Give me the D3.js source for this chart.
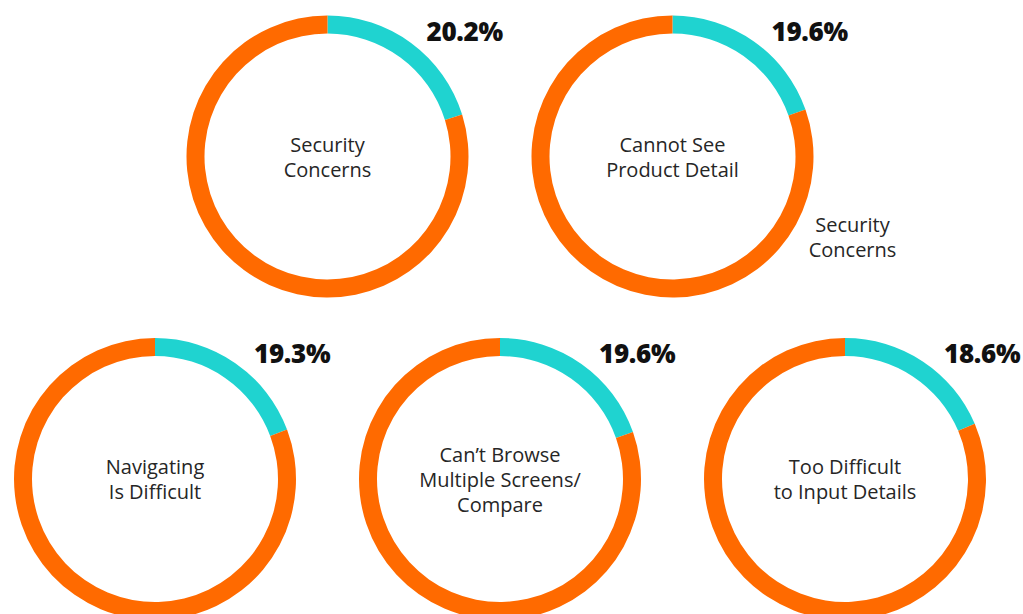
<html>
<body style="margin:0;background:#fff">
<svg class="chart"></svg>
</body>
<style>
  .center-label { font-family: "Open Sans", sans-serif; font-size: 20px; fill: #262626; }
  .pct-label { font-family: "Open Sans", sans-serif; font-weight: 800; font-size: 26px; fill: #111; letter-spacing: -0.3px; }
</style>
<script src="https://d3js.org/d3.v7.min.js"></script>
<script>
  // reasons, share of respondents (%)
  var categories = [
    ["Security", "Concerns"],
    ["Cannot See", "Product Detail"],
    ["Navigating", "Is Difficult"],
    ["Can\u2019t Browse", "Multiple Screens/", "Compare"],
    ["Too Difficult", "to Input Details"]
  ];
  var percents = [20.2, 19.6, 19.3, 19.6, 18.6];
  var pctLabels = ["20.2%", "19.6%", "19.3%", "19.6%", "18.6%"];
  var sideNote = ["Security", "Concerns"];

  var width = 1023;
  var height = 614;
  var outerR = 141;
  var ringWidth = 18;
  var lineH = 25;

  // grid: top row holds 2 donuts between the 3 bottom columns
  var colX = d3.scaleLinear().domain([0, 1]).range([155, 500]);
  var rowY = d3.scaleLinear().domain([0, 1]).range([156.5, 479]);
  function slot(i) {
    return i < 2 ? { col: i + 0.5, row: 0 } : { col: i - 2, row: 1 };
  }

  var chart = d3.select(".chart")
    .attr("width", width)
    .attr("height", height);

  var pie = d3.pie().sort(null).value(function(d) { return d; });
  var arc = d3.arc().innerRadius(outerR - ringWidth).outerRadius(outerR);
  var colors = ["#1fd3d0", "#ff6a00"];

  var groups = chart.selectAll("g.donut")
      .data(percents)
    .enter().append("g")
      .attr("class", "donut")
      .attr("transform", function(d, i) {
        var s = slot(i);
        return "translate(" + colX(s.col) + "," + rowY(s.row) + ")";
      });

  groups.selectAll("path")
      .data(function(d) { return pie([d, 100 - d]); })
    .enter().append("path")
      .attr("d", arc)
      .style("fill", function(d, i) { return colors[i]; });

  groups.append("text")
    .attr("class", "center-label")
    .attr("text-anchor", "middle")
    .each(function(d, i) {
      var lines = categories[i];
      var t = d3.select(this);
      lines.forEach(function(l, j) {
        t.append("tspan")
          .attr("x", 0)
          .attr("y", (j - (lines.length - 1) / 2) * lineH)
          .attr("dominant-baseline", "central")
          .text(l);
      });
    });

  groups.append("text")
    .attr("class", "pct-label")
    .attr("x", 99)
    .attr("y", -126)
    .attr("dominant-baseline", "central")
    .text(function(d, i) { return pctLabels[i]; });

  // stray annotation beside the second donut
  var note = chart.append("text")
    .attr("class", "center-label")
    .attr("text-anchor", "middle")
    .attr("transform", "translate(" + (colX(1.5) + 180) + "," + (rowY(0) + 80) + ")");
  sideNote.forEach(function(l, j) {
    note.append("tspan")
      .attr("x", 0)
      .attr("y", (j - 0.5) * lineH)
      .attr("dominant-baseline", "central")
      .text(l);
  });
</script>
</html>
